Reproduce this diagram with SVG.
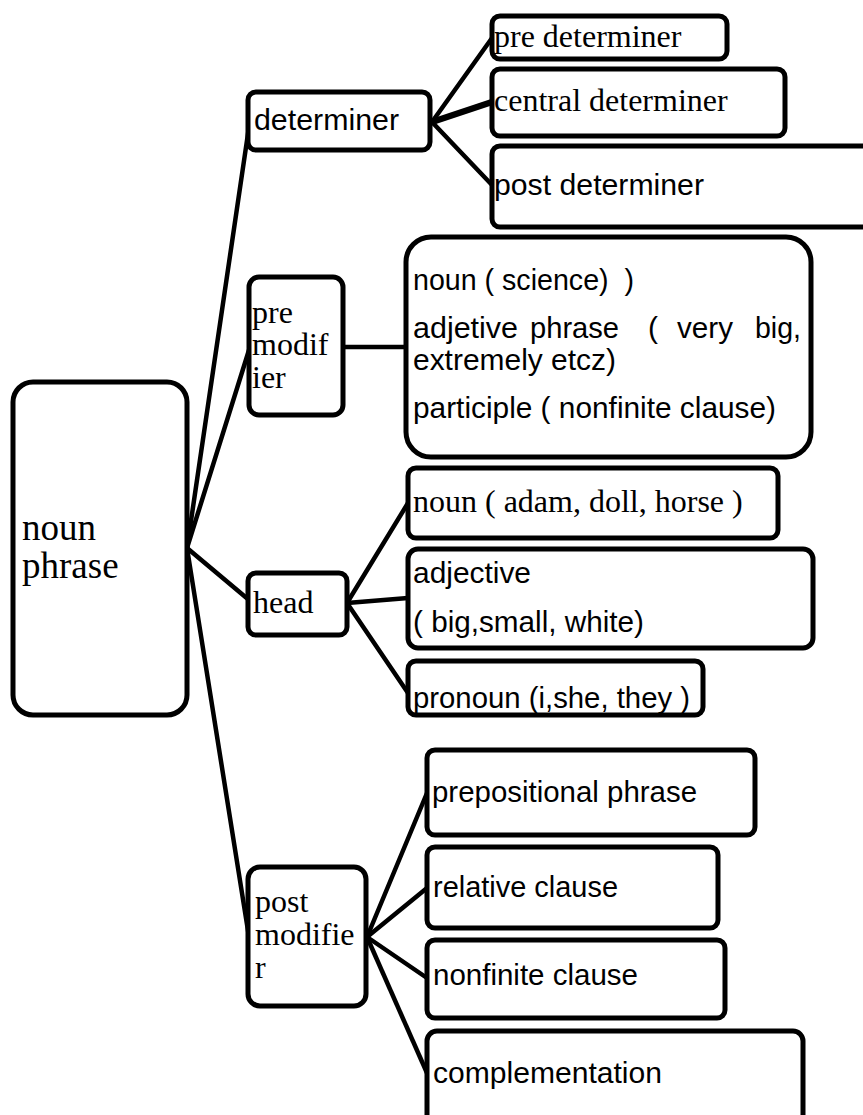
<svg xmlns="http://www.w3.org/2000/svg" width="863" height="1115" viewBox="0 0 863 1115">
<style>
.box{fill:#fff;stroke:#000;stroke-width:5}
.edge{stroke:#000;stroke-width:4.5;fill:none;stroke-linecap:round}
.serif{font-family:"Liberation Serif","Times New Roman",serif;font-size:32px;fill:#000}
.big{font-size:37px}
.sans{font-family:"Liberation Sans",Arial,sans-serif;font-size:29px;fill:#000}
</style>
<rect x="0" y="0" width="863" height="1115" fill="#fff"/>
<g id="connectors">
<line class="edge" x1="187" y1="548" x2="250" y2="120"/>
<line class="edge" x1="187" y1="548" x2="249" y2="350"/>
<line class="edge" x1="187" y1="548" x2="249" y2="600"/>
<line class="edge" x1="187" y1="548" x2="249" y2="937"/>
<line class="edge" x1="432" y1="122" x2="492" y2="38"/>
<line class="edge" x1="432" y1="122" x2="492" y2="102" style="stroke-width:6.5"/>
<line class="edge" x1="432" y1="122" x2="492" y2="185"/>
<line class="edge" x1="343" y1="347" x2="406" y2="347"/>
<line class="edge" x1="347" y1="603" x2="408" y2="503"/>
<line class="edge" x1="347" y1="603" x2="408" y2="598"/>
<line class="edge" x1="347" y1="603" x2="408" y2="693"/>
<line class="edge" x1="367" y1="937" x2="427" y2="793"/>
<line class="edge" x1="367" y1="937" x2="427" y2="888"/>
<line class="edge" x1="367" y1="937" x2="427" y2="978"/>
<line class="edge" x1="367" y1="937" x2="427" y2="1073"/>
</g>
<g id="noun-phrase">
<rect class="box" x="13" y="382" width="174" height="333" rx="20"/>
<text class="serif big" x="22" y="540">noun</text>
<text class="serif big" x="22" y="578">phrase</text>
</g>
<g id="determiner">
<rect class="box" x="248" y="92" width="182" height="58" rx="8"/>
<text class="sans" x="254" y="130" textLength="145" lengthAdjust="spacingAndGlyphs">determiner</text>
</g>
<g id="pre-determiner">
<rect class="box" x="492" y="16" width="235" height="43" rx="8"/>
<text class="serif" x="494" y="47">pre determiner</text>
</g>
<g id="central-determiner">
<rect class="box" x="492" y="69" width="293" height="67" rx="8"/>
<text class="serif" x="494" y="111">central determiner</text>
</g>
<g id="post-determiner">
<rect class="box" x="492" y="146" width="400" height="81" rx="8"/>
<text class="sans" x="494" y="195" textLength="210" lengthAdjust="spacingAndGlyphs">post determiner</text>
</g>
<g id="pre-modifier">
<rect class="box" x="249" y="277" width="94" height="138" rx="10"/>
<text class="serif" x="252" y="323">pre</text>
<text class="serif" x="252" y="355">modif</text>
<text class="serif" x="252" y="388">ier</text>
</g>
<g id="pre-modifier-types">
<rect class="box" x="406" y="237" width="405" height="220" rx="25"/>
<text class="sans" x="413" y="290" xml:space="preserve" textLength="221" lengthAdjust="spacingAndGlyphs">noun ( science)  )</text>
<text class="sans" x="413" y="338" textLength="105" lengthAdjust="spacingAndGlyphs">adjetive</text>
<text class="sans" x="530" y="338" textLength="89" lengthAdjust="spacingAndGlyphs">phrase</text>
<text class="sans" x="648" y="338" textLength="10" lengthAdjust="spacingAndGlyphs">(</text>
<text class="sans" x="677" y="338" textLength="56" lengthAdjust="spacingAndGlyphs">very</text>
<text class="sans" x="755" y="338" textLength="46" lengthAdjust="spacingAndGlyphs">big,</text>
<text class="sans" x="413" y="370" textLength="203" lengthAdjust="spacingAndGlyphs">extremely etcz)</text>
<text class="sans" x="413" y="418" textLength="363" lengthAdjust="spacingAndGlyphs">participle ( nonfinite clause)</text>
</g>
<g id="head">
<rect class="box" x="248" y="573" width="99" height="62" rx="8"/>
<text class="serif" x="253" y="613">head</text>
</g>
<g id="head-noun">
<rect class="box" x="408" y="468" width="370" height="70" rx="8"/>
<text class="serif" x="413" y="512">noun ( adam, doll, horse )</text>
</g>
<g id="head-adjective">
<rect class="box" x="408" y="549" width="405" height="99" rx="10"/>
<text class="sans" x="413" y="583" textLength="118" lengthAdjust="spacingAndGlyphs">adjective</text>
<text class="sans" x="413" y="632" textLength="231" lengthAdjust="spacingAndGlyphs">( big,small, white)</text>
</g>
<g id="head-pronoun">
<rect class="box" x="408" y="661" width="295" height="54" rx="8"/>
<text class="sans" x="413" y="708" textLength="277" lengthAdjust="spacingAndGlyphs">pronoun (i,she, they )</text>
</g>
<g id="post-modifier">
<rect class="box" x="248" y="867" width="118" height="139" rx="12"/>
<text class="serif" x="255" y="912">post</text>
<text class="serif" x="255" y="945">modifie</text>
<text class="serif" x="255" y="978">r</text>
</g>
<g id="prepositional-phrase">
<rect class="box" x="427" y="750" width="328" height="85" rx="8"/>
<text class="sans" x="432" y="802" textLength="265" lengthAdjust="spacingAndGlyphs">prepositional phrase</text>
</g>
<g id="relative-clause">
<rect class="box" x="427" y="847" width="291" height="81" rx="8"/>
<text class="sans" x="433" y="897" textLength="185" lengthAdjust="spacingAndGlyphs">relative clause</text>
</g>
<g id="nonfinite-clause">
<rect class="box" x="427" y="940" width="298" height="78" rx="8"/>
<text class="sans" x="433" y="985" textLength="205" lengthAdjust="spacingAndGlyphs">nonfinite clause</text>
</g>
<g id="complementation">
<rect class="box" x="427" y="1031" width="376" height="110" rx="10"/>
<text class="sans" x="433" y="1083" textLength="229" lengthAdjust="spacingAndGlyphs">complementation</text>
</g>
</svg>
